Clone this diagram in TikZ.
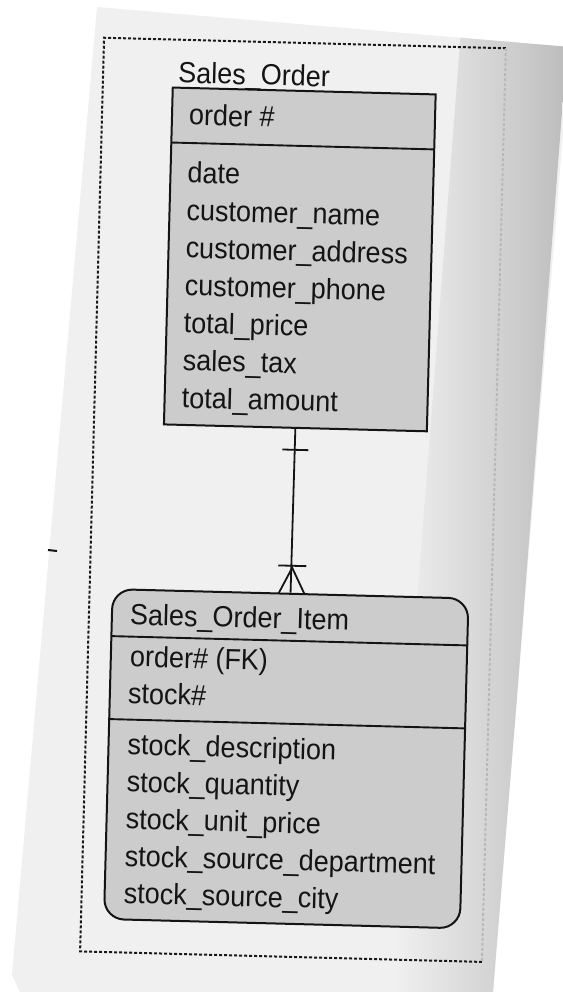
\documentclass[tikz,border=0pt]{standalone}
\usepackage{fontspec}
\setmainfont{Liberation Sans}
\newfontfamily\erfont{Liberation Sans}
\definecolor{pagegray}{gray}{0.94}
\definecolor{curlmid}{gray}{0.80}
\definecolor{curledge}{gray}{0.60}
\definecolor{boxgray}{gray}{0.80}
\definecolor{ink}{gray}{0.08}
% paper darkening towards the curled edge
\pgfdeclarehorizontalshading{curl}{100bp}{color(0bp)=(pagegray); color(30bp)=(pagegray);
  color(60bp)=(curlmid); color(100bp)=(curledge)}
\begin{document}
\begin{tikzpicture}[x=1pt,y=-1pt,
  entity/.style={draw=ink, line width=2pt, fill=boxgray, inner sep=0pt},
  field/.style={anchor=base west, inner sep=0pt, text=ink,
                font=\erfont\fontsize{27}{30}\selectfont, yscale=1.08},
  rule/.style={draw=ink, line width=1.9pt},
  frame/.style={line width=2pt, dash pattern=on 3pt off 2pt},
  link/.style={draw=ink, line width=1.8pt}]
\useasboundingbox (0,0) rectangle (562,992);
\fill[white] (0,0) rectangle (562,992);

% the sheet of paper
\fill[pagegray] (97,7) -- (570,47) -- (493,992) -- (20,992) -- (12,975) -- cycle;
\begin{scope}
  \clip (97,7) -- (570,47) -- (493,992) -- (20,992) -- (12,975) -- cycle;
  \begin{scope}[rotate around={-4.4:(566,47)}]
    \shade[shading=curl] (460,-100) rectangle (567,1150);
  \end{scope}
\end{scope}
\draw[ink, line width=2pt] (48,550) -- (57,551);

\begin{scope}[rotate around={-1.5:(300,500)}, transform shape]
  % dotted outline around the model
  \draw[frame, draw=gray!20!black] (494,43) -- (92,43) -- (92,957) -- (494,957);
  \draw[frame, draw=gray!55] (494,43) -- (494,957);

  % Sales_Order entity
  \node[field] (so-title) at (167,86) {Sales\_Order};
  \node[entity, minimum width=263pt, minimum height=337pt] (so) at (293.5,259.5) {};
  \draw[rule] (162,146) -- (425,146);
  \node[field] (so-key) at (179,128) {order \#};
  \node[field] (so-f1) at (179,186.0) {date};
  \node[field] (so-f2) at (179,223.5) {customer\_name};
  \node[field] (so-f3) at (179,261.0) {customer\_address};
  \node[field] (so-f4) at (179,298.5) {customer\_phone};
  \node[field] (so-f5) at (179,336.0) {total\_price};
  \node[field] (so-f6) at (179,373.5) {sales\_tax};
  \node[field] (so-f7) at (179,411.0) {total\_amount};

  % Sales_Order_Item entity
  \node[entity, rounded corners=20pt, minimum width=356pt, minimum height=330pt] (soi) at (293,759) {};
  \draw[rule] (115,641) -- (471,641);
  \draw[rule] (115,724) -- (471,724);
  \node[field] (soi-title) at (133,629) {Sales\_Order\_Item};
  \node[field] (soi-k1) at (134,671) {order\# (FK)};
  \node[field] (soi-k2) at (133,708) {stock\#};
  \node[field] (soi-f1) at (134,759.0) {stock\_description};
  \node[field] (soi-f2) at (134,796.2) {stock\_quantity};
  \node[field] (soi-f3) at (134,833.4) {stock\_unit\_price};
  \node[field] (soi-f4) at (134,870.6) {stock\_source\_department};
  \node[field] (soi-f5) at (134,907.8) {stock\_source\_city};

  % one-to-many relationship
  \draw[link] (so.south) -- (soi.north);
  \coordinate (oneL) at (281,450);
  \coordinate (oneR) at (307,450);
  \draw[link] (oneL) -- (oneR);
  \coordinate (manyL) at (280,566);
  \coordinate (manyR) at (308,566);
  \draw[link] (manyL) -- (manyR);
  \coordinate (foot) at (294,568);
  \coordinate (footL) at (281,594);
  \coordinate (footR) at (307,594);
  \draw[link] (footL) -- (foot) -- (footR);
\end{scope}
\end{tikzpicture}
\end{document}
